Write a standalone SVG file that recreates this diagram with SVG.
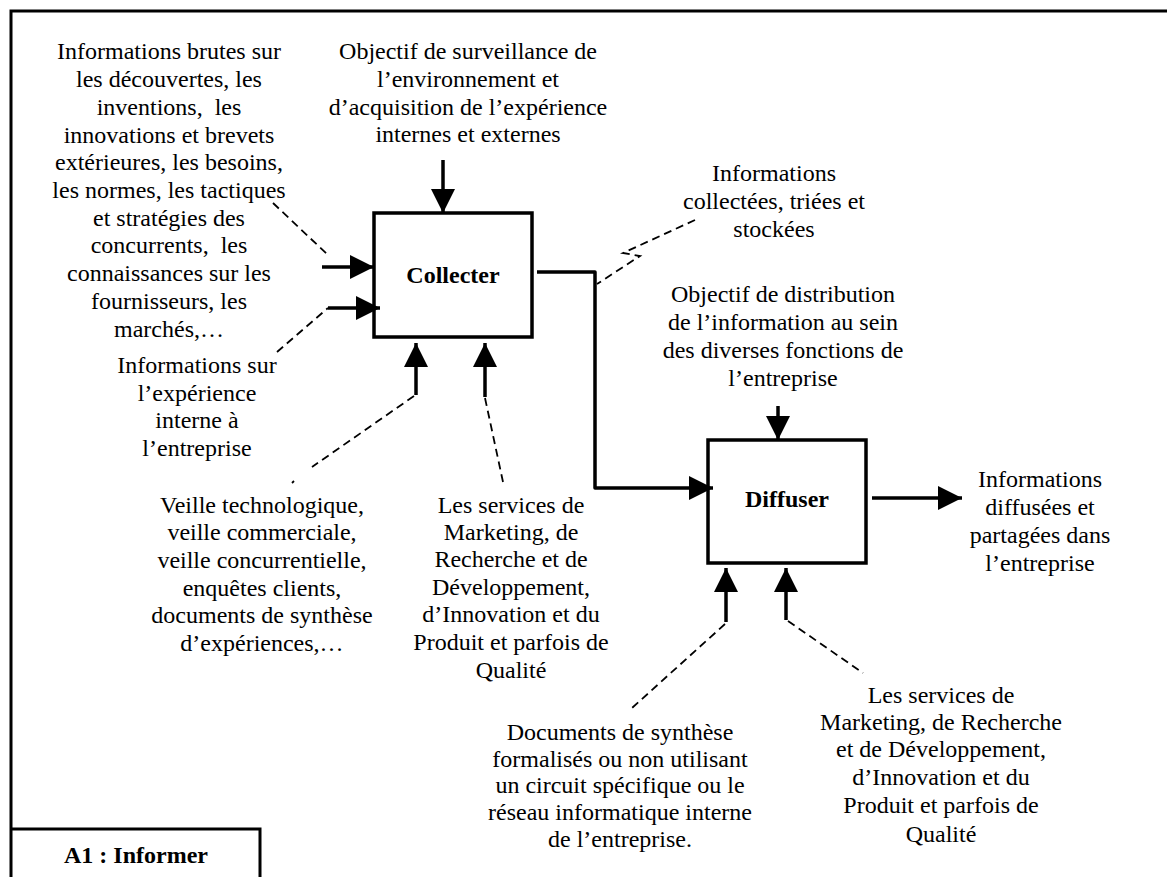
<svg xmlns="http://www.w3.org/2000/svg" width="1167" height="877" viewBox="0 0 1167 877">
<style>
  text { font-family: "Liberation Serif", "Times New Roman", serif; font-size: 24px; fill: #000; text-anchor: middle; }
  .b { font-weight: bold; }
  .box { fill: #fff; stroke: #000; stroke-width: 3.5; }
  .frame { fill: none; stroke: #000; stroke-width: 3; }
  .solid { fill: none; stroke: #000; stroke-width: 3.5; stroke-linejoin: round; }
  .dash { fill: none; stroke: #000; stroke-width: 1.8; stroke-dasharray: 8 5; }
</style>
<defs>
  <marker id="ah" markerUnits="userSpaceOnUse" markerWidth="26" markerHeight="26" refX="24" refY="12" orient="auto">
    <path d="M0,0 L24,12 L0,24 z" fill="#000"/>
  </marker>
</defs>
<rect x="0" y="0" width="1167" height="877" fill="#fff"/>
<g id="frame">
  <path class="frame" d="M11,877 L11,11 L1167,11"/>
</g>
<g id="title">
  <path class="frame" d="M12,829 L260,829 L260,877" stroke-width="2.5"/>
  <text class="b" x="136" y="863">A1 : Informer</text>
</g>
<g id="collecter">
  <rect class="box" x="374" y="213" width="158" height="124"/>
  <text class="b" x="453" y="283">Collecter</text>
</g>
<g id="diffuser">
  <rect class="box" x="708" y="440" width="158" height="123"/>
  <text class="b" x="787" y="507">Diffuser</text>
</g>
<g id="connectors">
  <path class="solid" d="M443,160 L443,213" marker-end="url(#ah)"/>
  <path class="solid" d="M322,267 L374,267" marker-end="url(#ah)"/>
  <path class="solid" d="M328,308 L380,308" marker-end="url(#ah)"/>
  <path class="dash" d="M273,203 L328,255"/>
  <path class="dash" d="M277,352 L328,308"/>
  <path class="solid" d="M416,395 L416,343" marker-end="url(#ah)"/>
  <path class="dash" d="M414,396 L312,467"/>
  <path class="dash" d="M294,481 L292,483"/>
  <path class="solid" d="M485,397 L485,343" marker-end="url(#ah)"/>
  <path class="dash" d="M485,398 L503,482"/>
  <path class="solid" d="M537,272 L595,272 L595,488 L713,488" marker-end="url(#ah)"/>
  <path class="dash" d="M695,220 L623,253 L640,256 L597,284"/>
  <path class="solid" d="M778,406 L778,440" marker-end="url(#ah)"/>
  <path class="solid" d="M872,498 L962,498" marker-end="url(#ah)"/>
  <path class="solid" d="M726,622 L726,568" marker-end="url(#ah)"/>
  <path class="dash" d="M725,624 L632,708"/>
  <path class="solid" d="M786,620 L786,568" marker-end="url(#ah)"/>
  <path class="dash" d="M788,621 L863,673"/>
</g>
<g id="label-inputs">
  <text x="169" y="59">Informations brutes sur</text>
  <text x="169" y="87">les découvertes, les</text>
  <text x="169" y="115">inventions,&#160; les</text>
  <text x="169" y="143">innovations et brevets</text>
  <text x="169" y="170">extérieures, les besoins,</text>
  <text x="169" y="198">les normes, les tactiques</text>
  <text x="169" y="226">et stratégies des</text>
  <text x="169" y="253">concurrents,&#160; les</text>
  <text x="169" y="281">connaissances sur les</text>
  <text x="169" y="309">fournisseurs, les</text>
  <text x="169" y="337">marchés,…</text>
</g>
<g id="label-internal">
  <text x="197" y="373">Informations sur</text>
  <text x="197" y="401">l’expérience</text>
  <text x="197" y="428">interne à</text>
  <text x="197" y="456">l’entreprise</text>
</g>
<g id="label-control1">
  <text x="468" y="59">Objectif de surveillance de</text>
  <text x="468" y="87">l’environnement et</text>
  <text x="468" y="115">d’acquisition de l’expérience</text>
  <text x="468" y="142">internes et externes</text>
</g>
<g id="label-collected">
  <text x="774" y="181">Informations</text>
  <text x="774" y="209">collectées, triées et</text>
  <text x="774" y="237">stockées</text>
</g>
<g id="label-control2">
  <text x="783" y="302">Objectif de distribution</text>
  <text x="783" y="330">de l’information au sein</text>
  <text x="783" y="358">des diverses fonctions de</text>
  <text x="783" y="386">l’entreprise</text>
</g>
<g id="label-output">
  <text x="1040" y="487">Informations</text>
  <text x="1040" y="515">diffusées et</text>
  <text x="1040" y="543">partagées dans</text>
  <text x="1040" y="571">l’entreprise</text>
</g>
<g id="label-veille">
  <text x="262" y="513">Veille technologique,</text>
  <text x="262" y="540">veille commerciale,</text>
  <text x="262" y="568">veille concurrentielle,</text>
  <text x="262" y="596">enquêtes clients,</text>
  <text x="262" y="623">documents de synthèse</text>
  <text x="262" y="651">d’expériences,…</text>
</g>
<g id="label-services1">
  <text x="511" y="513">Les services de</text>
  <text x="511" y="540">Marketing, de</text>
  <text x="511" y="567">Recherche et de</text>
  <text x="511" y="595">Développement,</text>
  <text x="511" y="622">d’Innovation et du</text>
  <text x="511" y="650">Produit et parfois de</text>
  <text x="511" y="678">Qualité</text>
</g>
<g id="label-documents">
  <text x="620" y="740">Documents de synthèse</text>
  <text x="620" y="767">formalisés ou non utilisant</text>
  <text x="620" y="793">un circuit spécifique ou le</text>
  <text x="620" y="820">réseau informatique interne</text>
  <text x="620" y="847">de l’entreprise.</text>
</g>
<g id="label-services2">
  <text x="941" y="703">Les services de</text>
  <text x="941" y="730">Marketing, de Recherche</text>
  <text x="941" y="757">et de Développement,</text>
  <text x="941" y="785">d’Innovation et du</text>
  <text x="941" y="813">Produit et parfois de</text>
  <text x="941" y="842">Qualité</text>
</g>
</svg>
